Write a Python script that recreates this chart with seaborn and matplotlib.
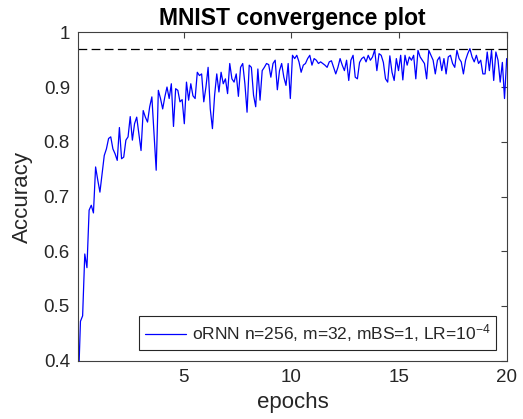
import numpy as np
import pandas as pd
import matplotlib
matplotlib.use("Agg")
import matplotlib.pyplot as plt
import seaborn as sns

# ---- data ----
seg1 = [0.35, 0.472, 0.482, 0.595, 0.57, 0.675, 0.684, 0.67, 0.754, 0.73,
        0.708, 0.742, 0.775, 0.787, 0.806, 0.809, 0.787, 0.778, 0.766, 0.826,
        0.769, 0.772, 0.803, 0.809, 0.846, 0.803, 0.833, 0.845, 0.815, 0.784,
        0.857, 0.845, 0.836, 0.864, 0.882, 0.815, 0.748, 0.894, 0.879, 0.86,
        0.882, 0.9, 0.879, 0.906, 0.828, 0.897, 0.894, 0.873, 0.877, 0.833]
seg2 = [0.909, 0.876, 0.906, 0.884, 0.879, 0.927, 0.921, 0.924, 0.873, 0.9,
        0.936, 0.86, 0.824,
        0.885, 0.924, 0.891, 0.927, 0.906, 0.915, 0.888, 0.943, 0.915, 0.909,
        0.924, 0.883, 0.936, 0.943, 0.906, 0.854,
        0.94, 0.936, 0.885, 0.864, 0.933, 0.876, 0.93, 0.936, 0.943, 0.941,
        0.918, 0.943, 0.949, 0.895, 0.93, 0.943, 0.918, 0.903, 0.943, 0.879,
        0.958]
seg3 = [0.952, 0.958, 0.946, 0.927,
        0.94, 0.943, 0.952, 0.958, 0.94, 0.952, 0.949, 0.943, 0.946, 0.943,
        0.94, 0.936, 0.946, 0.948, 0.936, 0.924,
        0.936, 0.952, 0.94, 0.93, 0.949, 0.912,
        0.949, 0.958, 0.918, 0.915, 0.945, 0.952, 0.955, 0.946, 0.958, 0.949,
        0.955, 0.968,
        0.93, 0.961, 0.958, 0.945, 0.915, 0.909, 0.957, 0.927, 0.912, 0.952,
        0.93, 0.958]
seg4 = [0.913, 0.958, 0.94, 0.955, 0.949, 0.958, 0.915, 0.967, 0.955, 0.949,
        0.943, 0.915, 0.967, 0.958, 0.949, 0.924, 0.949, 0.955, 0.93, 0.952,
        0.924, 0.955, 0.958, 0.943, 0.936, 0.967, 0.952, 0.946, 0.924, 0.949,
        0.961, 0.97, 0.955, 0.946, 0.958, 0.943, 0.949, 0.924, 0.924, 0.964,
        0.93, 0.967, 0.912, 0.964, 0.949, 0.909, 0.945, 0.879, 0.952]
accuracy = seg1 + seg2 + seg3 + seg4
epochs = np.linspace(0.1, 20, len(accuracy))
target_accuracy = 0.97
x_ticks = [5, 10, 15, 20]
y_ticks = [0.4, 0.5, 0.6, 0.7, 0.8, 0.9, 1.0]
y_tick_labels = ["0.4", "0.5", "0.6", "0.7", "0.8", "0.9", "1"]
series_label = r"oRNN n=256, m=32, mBS=1, LR=10$^{\mathsf{-4}}$"

df = pd.DataFrame({"epochs": epochs, "Accuracy": accuracy})

sns.set_theme(style="white")
plt.rcParams["font.family"] = ["Liberation Sans", "DejaVu Sans"]
plt.rcParams["mathtext.fontset"] = "custom"
plt.rcParams["mathtext.rm"] = "Liberation Sans"
plt.rcParams["mathtext.it"] = "Liberation Sans"
plt.rcParams["mathtext.sf"] = "Liberation Sans"

fig = plt.figure(figsize=(5.23, 4.19), dpi=100)
ax = fig.add_axes([0.1497, 0.1391, 0.8191, 0.7838])

sns.lineplot(data=df, x="epochs", y="Accuracy", ax=ax, color=(0, 0, 1),
             linewidth=0.9, label=series_label, sort=False)
ax.axhline(target_accuracy, color="black", linewidth=0.9, dashes=(7, 3.5))

ax.set_xlim(0.1, 20)
ax.set_ylim(0.4, 1.0)
ax.set_xticks(x_ticks)
ax.set_xticklabels([str(t) for t in x_ticks])
ax.set_yticks(y_ticks)
ax.set_yticklabels(y_tick_labels)

spine_col = "#404040"
for s in ax.spines.values():
    s.set_visible(True)
    s.set_color(spine_col)
    s.set_linewidth(0.8)
ax.tick_params(direction="in", length=4, width=0.8, color=spine_col,
               labelsize=13.5, labelcolor="#262626", top=True, right=True,
               pad=6)

ax.set_xlabel("epochs", fontsize=16, color="#262626", labelpad=4)
ax.set_ylabel("Accuracy", fontsize=16, color="#262626", labelpad=8)
ax.set_title("MNIST convergence plot", fontsize=16.5, fontweight="bold",
             color="black", pad=5)

leg = ax.legend(loc="lower right", fontsize=12.5, frameon=True, fancybox=False,
                handlelength=2.4, handletextpad=0.3, borderpad=0.35,
                borderaxespad=0.6)
leg.get_frame().set_edgecolor("#262626")
leg.get_frame().set_linewidth(0.8)
leg.get_frame().set_alpha(1)

fig.savefig("out.png", dpi=100, facecolor="white")
